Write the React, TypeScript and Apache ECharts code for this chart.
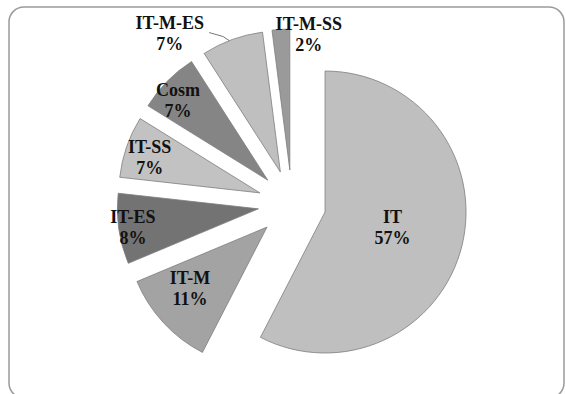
import React, { useEffect, useRef } from "react";
import * as echarts from "echarts";

// Shares of each segment (percent)
const categories = ["IT", "IT-M", "IT-ES", "IT-SS", "Cosm", "IT-M-ES", "IT-M-SS"];
const shares = [57, 11, 8, 7, 7, 7, 2];

// Fill per slice (grayscale)
const sliceColors = ["#bfbfbf", "#a3a3a3", "#737373", "#c2c2c2", "#858585", "#bfbfbf", "#9a9a9a"];

// Label placement around each exploded slice: [angle shift in degrees, radius fraction]
const labelPolar: [number, number][] = [
  [-1, 0.49],
  [4, 0.7],
  [-0.5, 0.9],
  [-1.5, 0.82],
  [-3, 0.85],
  [-18.5, 1.26],
  [11.6, 0.97],
];
// Slices whose label is tied to the slice by a short leader line
const leaderLines = [false, false, false, false, false, true, false];

const CENTER: [number, number] = [292, 204];
const RADIUS = 141;
const EXPLODE = 34;

export default function App() {
  const ref = useRef<HTMLDivElement>(null);

  useEffect(() => {
    if (!ref.current) return;
    const chart = echarts.init(ref.current, undefined, { renderer: "svg" });
    const total = shares.reduce((a, b) => a + b, 0);
    const before = shares.map((_, i) => shares.slice(0, i).reduce((a, b) => a + b, 0));

    const renderItem = (params: any, api: any) => {
      const i = params.dataIndex;
      const v = api.value(0);
      const startDeg = (before[i] / total) * 360;
      const spanDeg = (v / total) * 360;
      const midDeg = startDeg + spanDeg / 2;
      const mid = (midDeg * Math.PI) / 180;
      // exploded apex of this slice
      const ax = CENTER[0] + EXPLODE * Math.sin(mid);
      const ay = CENTER[1] - EXPLODE * Math.cos(mid);
      const start = -Math.PI / 2 + (startDeg * Math.PI) / 180;
      const end = start + (spanDeg * Math.PI) / 180;

      const [shift, frac] = labelPolar[i];
      const la = ((midDeg + shift) * Math.PI) / 180;
      const lx = ax + frac * RADIUS * Math.sin(la);
      const ly = ay - frac * RADIUS * Math.cos(la);

      const children: any[] = [
        {
          type: "sector",
          shape: { cx: ax, cy: ay, r: RADIUS, r0: 0, startAngle: start, endAngle: end, clockwise: true },
          style: { fill: sliceColors[i], stroke: "#7d7d7d", lineWidth: 0.8 },
        },
        {
          type: "text",
          x: lx,
          y: ly,
          z2: 10,
          style: {
            text: `${categories[i]}\n${v}%`,
            fontFamily: "Liberation Serif",
            fontWeight: "bold",
            fontSize: 18,
            lineHeight: 21,
            fill: "#111",
            align: "center",
            verticalAlign: "middle",
          },
        },
      ];

      if (leaderLines[i]) {
        const ox = ax + RADIUS * Math.sin(mid);
        const oy = ay - RADIUS * Math.cos(mid);
        children.push({
          type: "polyline",
          z2: 5,
          shape: {
            points: [
              [ox - 3, oy + 1],
              [ox - 9, oy - 3],
              [ox - 23, oy - 7],
            ],
          },
          style: { stroke: "#555", lineWidth: 0.8, fill: "none" },
        });
      }

      return { type: "group", children };
    };

    chart.setOption({
      animation: false,
      graphic: [
        {
          type: "rect",
          shape: { x: 9, y: 7, width: 555, height: 391, r: 15 },
          style: { fill: "none", stroke: "#9a9a9a", lineWidth: 1.5 },
          silent: true,
        },
      ],
      series: [
        {
          type: "custom",
          coordinateSystem: "none",
          renderItem,
          dimensions: ["share"],
          data: shares.map((v) => [v]),
        },
      ],
    });

    return () => chart.dispose();
  }, []);

  return (
    <div
      ref={ref}
      style={{ position: "fixed", left: 0, top: 0, width: 566, height: 394, background: "#fff" }}
    />
  );
}
